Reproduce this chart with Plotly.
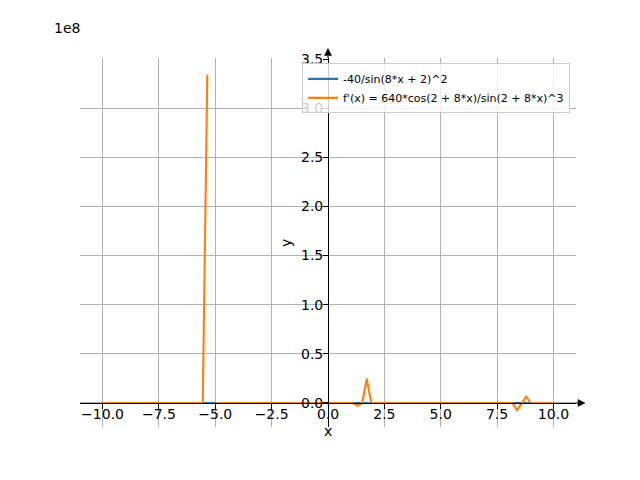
import plotly.graph_objects as go

# sample positions (100 samples from -10 to 10)
x_vals = [
    -10.000, -9.798, -9.596, -9.394, -9.192, -8.990, -8.788, -8.586, -8.384, -8.182,
    -7.980, -7.778, -7.576, -7.374, -7.172, -6.970, -6.768, -6.566, -6.364, -6.162,
    -5.960, -5.758, -5.556, -5.354, -5.152, -4.949, -4.747, -4.545, -4.343, -4.141,
    -3.939, -3.737, -3.535, -3.333, -3.131, -2.929, -2.727, -2.525, -2.323, -2.121,
    -1.919, -1.717, -1.515, -1.313, -1.111, -0.909, -0.707, -0.505, -0.303, -0.101,
    0.101, 0.303, 0.505, 0.707, 0.909, 1.111, 1.313, 1.515, 1.717, 1.919,
    2.121, 2.323, 2.525, 2.727, 2.929, 3.131, 3.333, 3.535, 3.737, 3.939,
    4.141, 4.343, 4.545, 4.747, 4.949, 5.152, 5.354, 5.556, 5.758, 5.960,
    6.162, 6.364, 6.566, 6.768, 6.970, 7.172, 7.374, 7.576, 7.778, 7.980,
    8.182, 8.384, 8.586, 8.788, 8.990, 9.192, 9.394, 9.596, 9.798, 10.000,
]

# -40/sin(8*x + 2)^2  (~0 at the 1e8 scale)
f_vals = [
    0, 0, 0, 0, 0, 0, 0, 0, 0, 0,
    0, 0, 0, 0, 0, 0, 0, 0, 0, 0,
    0, 0, 0, -2.6e5, 0, 0, 0, 0, 0, 0,
    0, 0, 0, 0, 0, 0, 0, 0, 0, 0,
    0, 0, 0, 0, 0, 0, 0, 0, 0, 0,
    0, 0, 0, 0, 0, 0, -1.1e4, 0, -4.6e4, 0,
    0, 0, 0, 0, 0, 0, 0, 0, 0, 0,
    0, 0, 0, 0, 0, 0, 0, 0, 0, 0,
    0, 0, 0, 0, 0, 0, 0, 0, 0, 0,
    0, -2.0e4, 0, -1.9e4, 0, 0, 0, 0, 0, 0,
]

# f'(x) = 640*cos(2 + 8*x)/sin(2 + 8*x)^3   (None = break in the line after the spike)
df_vals = [
    0, 0, 0, 0, 0, 0, 0, 0, 0, 0,
    0, 0, 0, 0, 0, 0, 0, 0, 0, 0,
    0, 0, 0, 3.34e8, None, 0, 0, 0, 0, 0,
    0, 0, 0, 0, 0, 0, 0, 0, 0, 0,
    0, 0, 0, 0, 0, 0, 0, 0, 0, 0,
    0, 0, 0, 0, 0, 0, -2.74e6, 0, 2.46e7, 0,
    0, 0, 0, 0, 0, 0, 0, 0, 0, 0,
    0, 0, 0, 0, 0, 0, 0, 0, 0, 0,
    0, 0, 0, 0, 0, 0, 0, 0, 0, 0,
    0, -7.36e6, 0, 6.41e6, 0, 0, 0, 0, 0, 0,
]

x_ticks = [-10, -7.5, -5, -2.5, 0, 2.5, 5, 7.5, 10]
x_tick_text = ["\u221210.0", "\u22127.5", "\u22125.0", "\u22122.5", "0.0", "2.5", "5.0", "7.5", "10.0"]
y_ticks = [0, 0.5e8, 1.0e8, 1.5e8, 2.0e8, 2.5e8, 3.0e8, 3.5e8]
y_tick_text = ["0.0", "0.5", "1.0", "1.5", "2.0", "2.5", "3.0", "3.5"]

FONT = "DejaVu Sans"
# the page adds an 8px body margin, so the figure is 8px smaller and shifted
OFF = 8
W, H = 640 - OFF, 480 - OFF
# plot area in page pixels: x 80..576, y 57.6..427.2
PL, PR, PT, PB = 80, 576, 57.6, 427.2
L, R, T, B = PL - OFF, (640 - OFF) - (PR - OFF), PT - OFF, (480 - OFF) - (PB - OFF)
PW, PH = PR - PL, PB - PT

x_range = [-11, 11]
y_lo, y_hi = -0.2443e8, 3.5102e8
y_zero_pos = (0 - y_lo) / (y_hi - y_lo)


def px(xp):
    return (xp - PL) / PW


def py(yp):
    return (PB - yp) / PH


fig = go.Figure()
fig.add_trace(go.Scatter(x=x_vals, y=f_vals, mode="lines", name="-40/sin(8*x + 2)^2",
                         line=dict(color="#1f77b4", width=2.1)))
fig.add_trace(go.Scatter(x=x_vals, y=df_vals, mode="lines", connectgaps=False,
                         name="f'(x) = 640*cos(2 + 8*x)/sin(2 + 8*x)^3",
                         line=dict(color="#ff7f0e", width=2.1)))

axis_common = dict(showgrid=True, gridcolor="#b0b0b0", gridwidth=1.1, zeroline=False,
                   showline=True, linecolor="black", linewidth=1.1,
                   ticks="outside", ticklen=4.9, tickwidth=1.1, tickcolor="black",
                   tickfont=dict(family=FONT, size=14, color="black"))

fig.update_layout(
    width=W, height=H,
    margin=dict(l=L, r=R, t=T, b=B, pad=0, autoexpand=False),
    paper_bgcolor="white", plot_bgcolor="white",
    font=dict(family=FONT, size=14, color="black"),
    xaxis=dict(range=x_range, tickmode="array", tickvals=x_ticks, ticktext=x_tick_text,
               anchor="free", position=y_zero_pos, ticklabelstandoff=-7, **axis_common),
    yaxis=dict(range=[y_lo, y_hi], tickmode="array", tickvals=y_ticks, ticktext=y_tick_text,
               anchor="free", position=0.5, ticklabelstandoff=-3, **axis_common),
    legend=dict(x=px(570), y=py(63), xanchor="right", yanchor="top",
                bgcolor="rgba(255,255,255,0.8)", bordercolor="#cccccc", borderwidth=1,
                font=dict(family=FONT, size=11, color="black"), tracegroupgap=0),
    showlegend=True,
)

# axis labels and offset text
ann = dict(xref="paper", yref="paper", showarrow=False, xanchor="center", yanchor="middle",
           font=dict(family=FONT, size=14, color="black"))
fig.add_annotation(text="x", x=px(328), y=py(431), **ann)
fig.add_annotation(text="y", x=px(286), y=py(243), textangle=-90, **ann)
fig.add_annotation(text="1e8", x=px(67), y=py(28), **ann)

# arrow heads at axis ends
yz = y_zero_pos
h = 3.5 / PH
fig.add_shape(type="line", xref="paper", yref="paper", x0=1, x1=px(578), y0=yz, y1=yz,
              line=dict(color="black", width=1.1))
fig.add_shape(type="path", xref="paper", yref="paper",
              path=f"M {px(578)} {yz + h} L {px(578)} {yz - h} L {px(585)} {yz} Z",
              fillcolor="black", line=dict(color="black", width=0.5))
w = 3.5 / PW
fig.add_shape(type="line", xref="paper", yref="paper", x0=0.5, x1=0.5, y0=1, y1=py(55),
              line=dict(color="black", width=1.1))
fig.add_shape(type="path", xref="paper", yref="paper",
              path=f"M {0.5 - w} {py(55)} L {0.5 + w} {py(55)} L 0.5 {py(48)} Z",
              fillcolor="black", line=dict(color="black", width=0.5))

fig.write_html("out.html")
